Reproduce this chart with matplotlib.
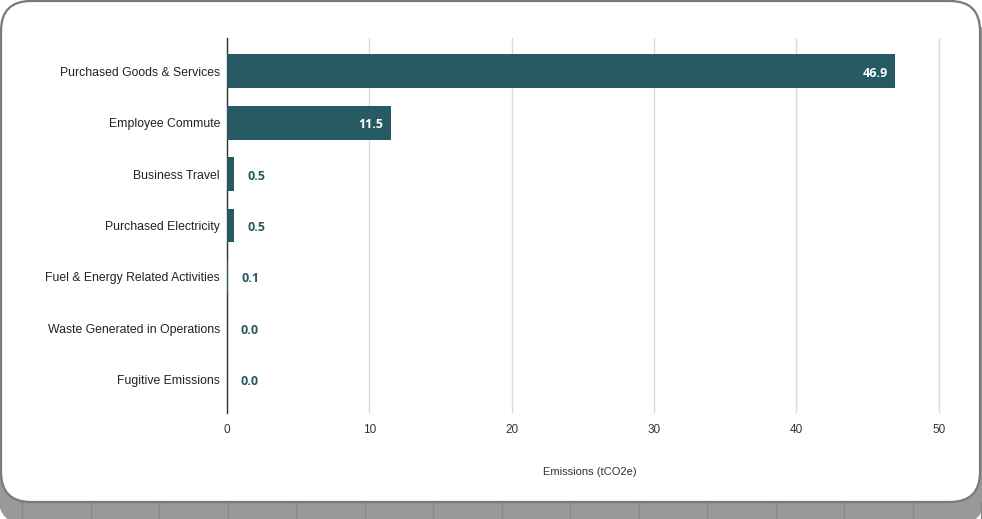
import numpy as np
import matplotlib.pyplot as plt
from matplotlib.patches import FancyBboxPatch
from matplotlib.transforms import IdentityTransform

categories = ['Purchased Goods & Services', 'Employee Commute', 'Business Travel',
              'Purchased Electricity', 'Fuel & Energy Related Activities',
              'Waste Generated in Operations', 'Fugitive Emissions']
emissions = [46.9, 11.5, 0.5, 0.5, 0.1, 0.0, 0.0]
x_ticks = [0, 10, 20, 30, 40, 50]

bar_color = '#265b63'
plt.rcParams['font.family'] = ['Liberation Sans', 'DejaVu Sans']

W, H = 982, 519
fig = plt.figure(figsize=(W / 100, H / 100), dpi=100, facecolor='white')

# card shadow / sheet strip and the white card
shadow = FancyBboxPatch((-2, -6), 987, 511, boxstyle='round,pad=0,rounding_size=30',
                        transform=IdentityTransform(), facecolor='#999999',
                        edgecolor='none', zorder=0)
fig.patches.append(shadow)
for xl in np.arange(22, W, 68.5):
    fig.lines.append(plt.Line2D([xl, xl], [0, 17], transform=IdentityTransform(),
                                color='#888888', lw=1, zorder=0.5))
card = FancyBboxPatch((1, 17), 979, 501, boxstyle='round,pad=0,rounding_size=30',
                      transform=IdentityTransform(), facecolor='white',
                      edgecolor='#7a7a7a', lw=1.6, zorder=1)
fig.patches.append(card)

ax = fig.add_axes([227 / W, 106 / H, 726 / W, 375 / H])
ax.set_facecolor('none')
ax.set_zorder(2)

y = np.arange(len(categories))
ax.barh(y, emissions, height=0.66, color=bar_color, zorder=3)

for yi, v in zip(y, emissions):
    if v > 5:
        ax.annotate(f'{v:.1f}', (v, yi), xytext=(-5, -1.5), textcoords='offset points',
                    ha='right', va='center', color='white', fontsize=9,
                    fontweight='bold', family='Open Sans')
    else:
        ax.annotate(f'{v:.1f}', (v, yi), xytext=(9.5, -1.5), textcoords='offset points',
                    ha='left', va='center', color=bar_color, fontsize=9,
                    fontweight='bold', family='Open Sans')

ax.set_xlim(0, 51)
ax.set_ylim(6.65, -0.65)
ax.set_yticks(y)
ax.set_yticklabels(categories, fontsize=8.8, color='#222222')
ax.set_xticks(x_ticks)
ax.set_xticklabels([str(t) for t in x_ticks], fontsize=8.5, color='#333333')
ax.tick_params(axis='y', length=0, pad=5)
ax.tick_params(axis='x', length=0, pad=8)
ax.grid(axis='x', color='#dadada', lw=1, zorder=0)
for s in ['top', 'right', 'bottom']:
    ax.spines[s].set_visible(False)
ax.spines['left'].set_color('#333333')
ax.spines['left'].set_linewidth(1)
ax.spines['left'].set_zorder(2.5)

ax.set_xlabel('Emissions (tCO2e)', fontsize=8, color='#333333', labelpad=22)

fig.savefig('out.png', dpi=100, facecolor='white')
